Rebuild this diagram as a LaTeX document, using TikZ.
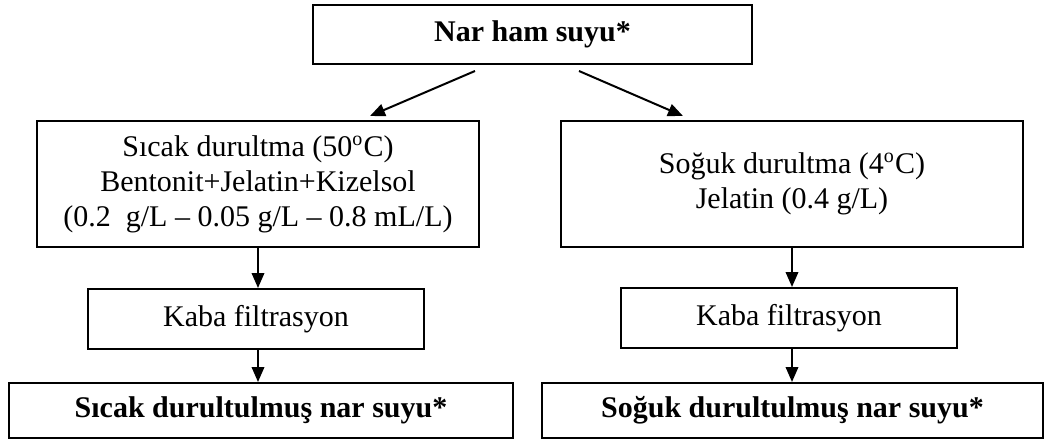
\documentclass[tikz,border=0pt]{standalone}
\usepackage{fontspec}
\setmainfont{Liberation Serif}
\usepackage{tikz}
\usetikzlibrary{arrows.meta,positioning}
\tikzset{
  stepbox/.style={rectangle, draw=black, line width=0.8pt, align=center,
                  font=\fontsize{12}{14}\selectfont, inner sep=2pt},
  arr/.style={-{Triangle[length=6pt,width=5pt]}, line width=0.8pt},
}
\begin{document}
\begin{tikzpicture}[x=0.4pt, y=-0.4pt]
\useasboundingbox (0,0) rectangle (1048,441);

% RAW JUICE
\node[stepbox, minimum width=175.6pt, minimum height=23.6pt, font=\fontsize{12}{14}\selectfont\bfseries] (raw) at (532.5,34.5) {Nar ham suyu*};

% CLARIFICATION
\node[stepbox, minimum width=176.8pt, minimum height=50.4pt] (hot) at (258,184) {S\i cak durultma (50\textsuperscript{o}C)\\Bentonit+Jelatin+Kizelsol\\(0.2~~g/L -- 0.05 g/L -- 0.8 mL/L)};
\node[stepbox, minimum width=184.8pt, minimum height=50.4pt] (cold) at (792,184) {Soğuk durultma (4\textsuperscript{o}C)\\Jelatin (0.4 g/L)};

% FILTRATION
\node[stepbox, minimum width=134.4pt, minimum height=24pt] (filtL) at (256,319) {Kaba filtrasyon};
\node[stepbox, minimum width=134.4pt, minimum height=24pt] (filtR) at (789,318) {Kaba filtrasyon};

% PRODUCTS
\node[stepbox, minimum width=201.6pt, minimum height=22pt, font=\fontsize{12}{14}\selectfont\bfseries] (outL) at (261,410.5) {S\i cak durultulmuş nar suyu*};
\node[stepbox, minimum width=200.4pt, minimum height=22pt, font=\fontsize{12}{14}\selectfont\bfseries] (outR) at (792.5,410.5) {Soğuk durultulmuş nar suyu*};

% Arrows
\draw[arr] ([xshift=-23pt,yshift=-2.4pt]raw.south) -- ([xshift=44.8pt,yshift=1.6pt]hot.north);
\draw[arr] ([xshift=18.6pt,yshift=-2.4pt]raw.south) -- ([xshift=-43.6pt,yshift=1.6pt]cold.north);
\draw[arr] (hot.south) -- (hot.south |- filtL.north);
\draw[arr] (cold.south) -- (cold.south |- filtR.north);
\draw[arr] (hot.south |- filtL.south) -- (hot.south |- outL.north);
\draw[arr] (cold.south |- filtR.south) -- (cold.south |- outR.north);

\end{tikzpicture}
\end{document}
